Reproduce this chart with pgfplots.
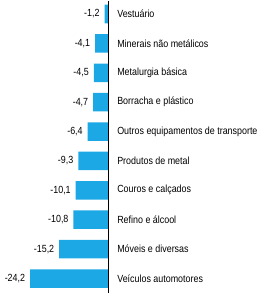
\documentclass[border=0pt]{standalone}
\usepackage{pgfplots}
\pgfplotsset{compat=1.18}
\usepackage{fontspec}
\setmainfont{Liberation Sans}[FakeStretch=0.86]
\definecolor{barblue}{RGB}{28,168,228}
\begin{document}
\begin{tikzpicture}[x=1bp,y=1bp]
\begin{axis}[
  scale only axis,
  width=257bp, height=298bp,
  xmin=-33.47, xmax=45.95,
  ymin=-0.476, ymax=9.663,
  y dir=reverse,
  axis line style={draw=none},
  xtick=\empty,
  ytick={0,1,2,3,4,5,6,7,8,9},
  yticklabels={Vestuário,Minerais não metálicos,Metalurgia básica,Borracha e plástico,Outros equipamentos de transporte,Produtos de metal,Couros e calçados,Refino e álcool,Móveis e diversas,Veículos automotores},
  major tick length=0pt,
  yticklabel style={anchor=west, xshift=117bp, font=\fontsize{10.4}{12}\selectfont, inner sep=0pt},
  /pgf/number format/assume math mode=true,
  clip=false,
]
\addplot[xbar, bar width=0.63, fill=barblue, draw=none,
  nodes near coords,
  nodes near coords style={font=\fontsize{10.4}{12}\selectfont, xshift=-1.5bp, /pgf/number format/.cd, fixed, fixed zerofill, precision=1, use comma, assume math mode=true},
] coordinates {
  (-1.2,0) (-4.1,1) (-4.5,2) (-4.7,3) (-6.4,4) (-9.3,5) (-10.1,6) (-10.8,7) (-15.2,8) (-24.2,9)
};
\draw[black, line width=0.6bp] (axis cs:0,-0.442) -- (axis cs:0,9.493);
\end{axis}
\end{tikzpicture}
\end{document}
